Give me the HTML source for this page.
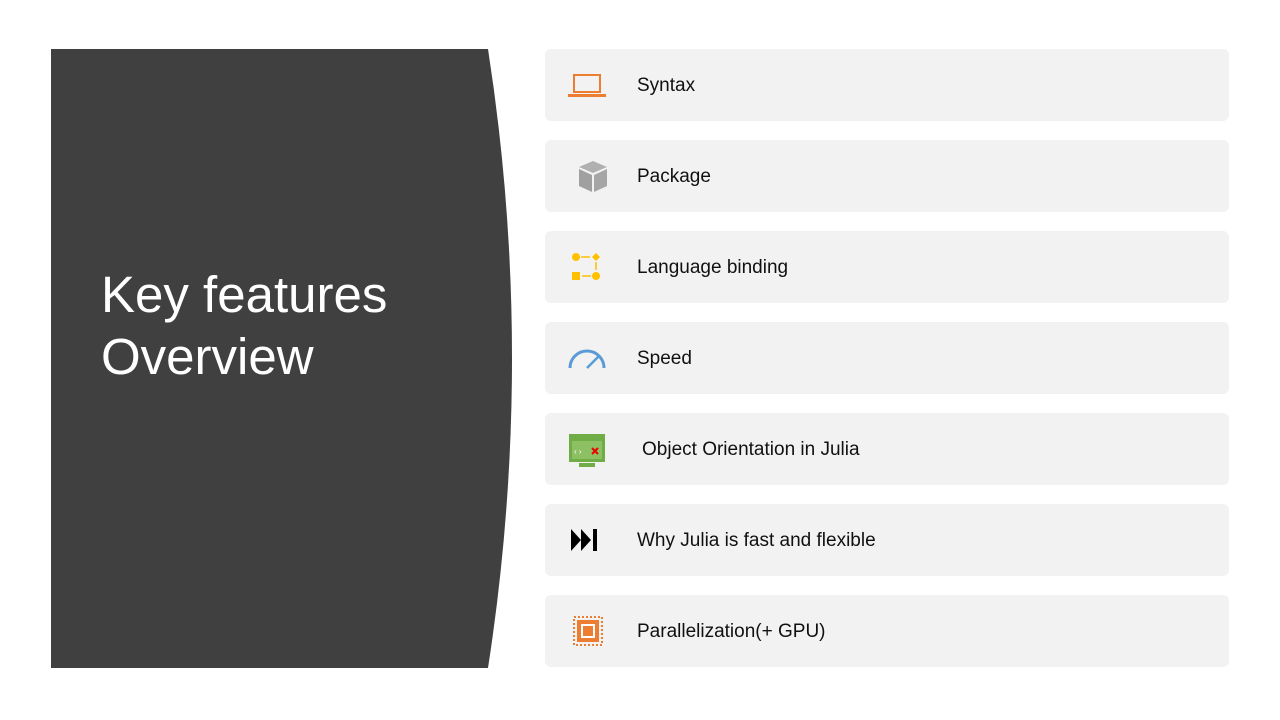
<!DOCTYPE html>
<html><head><style>
body{margin:0;width:1280px;height:720px;background:#fff;position:relative;overflow:hidden;font-family:"Liberation Sans",Calibri,sans-serif}
.r{position:absolute;left:545px;width:684px;height:72px;background:#f2f2f2;border-radius:6px}
.t{position:absolute;left:92px;top:1px;line-height:72px;font-size:19px;color:#111}
.i{position:absolute;left:20px;top:18px;width:44px;height:36px}
</style></head><body>
<svg style="position:absolute;left:0;top:0" width="1280" height="720">
<path d="M51 49 L488 49 Q536 358 488 668 L51 668 Z" fill="#404040"/>
<text x="101" y="312" fill="#fff" font-size="51" font-family="Liberation Sans,sans-serif">Key features</text>
<text x="101" y="374" fill="#fff" font-size="51" font-family="Liberation Sans,sans-serif">Overview</text>
</svg>
<div class="r" style="top:49px"><svg class="i" viewBox="0 0 44 36"><rect x="9" y="8" width="26" height="17" fill="none" stroke="#ed7d31" stroke-width="2"/><rect x="3" y="27" width="38" height="3" fill="#ed7d31"/></svg><div class="t">Syntax</div></div>
<div class="r" style="top:140px"><svg class="i" viewBox="0 0 44 36"><path d="M28 3 L42 9 L28 15 L14 9Z" fill="#b0b0b0"/><path d="M14 11 L27 17 L27 34 L14 28Z" fill="#a0a0a0"/><path d="M29 17 L42 11 L42 28 L29 34Z" fill="#a6a6a6"/></svg><div class="t">Package</div></div>
<div class="r" style="top:231px"><svg class="i" viewBox="0 0 44 36"><circle cx="11" cy="8" r="4" fill="#ffc000"/><path d="M31 4 L35 8 L31 12 L27 8Z" fill="#ffc000"/><line x1="16" y1="8" x2="25" y2="8" stroke="#ffc000" stroke-width="1.5"/><line x1="31" y1="13" x2="31" y2="21" stroke="#ffc000" stroke-width="1.5"/><rect x="7" y="23" width="8" height="8" fill="#ffc000"/><circle cx="31" cy="27" r="4" fill="#ffc000"/><line x1="17" y1="27" x2="26" y2="27" stroke="#ffc000" stroke-width="1.5"/></svg><div class="t">Language binding</div></div>
<div class="r" style="top:322px"><svg class="i" viewBox="0 0 44 36"><path d="M5 28 A17 17 0 0 1 39 28" fill="none" stroke="#5b9bd5" stroke-width="3"/><line x1="22" y1="28" x2="34" y2="16" stroke="#5b9bd5" stroke-width="2.5"/></svg><div class="t">Speed</div></div>
<div class="r" style="top:413px"><svg class="i" viewBox="0 0 44 36" style="top:16px;height:42px"><rect x="4" y="2" width="36" height="28" fill="#70ad47"/><rect x="7" y="9" width="30" height="18" fill="#8cc063"/><text x="9" y="22" font-size="8" fill="#fff">‹ ›</text><path d="M27 16 L33 22 M33 16 L27 22" stroke="#e00" stroke-width="2"/><rect x="14" y="31" width="16" height="4" fill="#70ad47"/></svg><div class="t" style="left:97px">Object Orientation in Julia</div></div>
<div class="r" style="top:504px"><svg class="i" viewBox="0 0 44 36"><path d="M6 7 L16 18 L6 29Z M16 7 L26 18 L16 29Z" fill="#000"/><rect x="28" y="7" width="4" height="22" fill="#000"/></svg><div class="t">Why Julia is fast and flexible</div></div>
<div class="r" style="top:595px"><svg class="i" viewBox="0 0 44 36"><rect x="9" y="4" width="28" height="28" fill="none" stroke="#ed7d31" stroke-width="2" stroke-dasharray="2 2"/><rect x="12" y="7" width="22" height="22" fill="#ed7d31"/><rect x="17" y="12" width="12" height="12" fill="none" stroke="#fff" stroke-width="2"/></svg><div class="t">Parallelization(+ GPU)</div></div>
</body></html>
